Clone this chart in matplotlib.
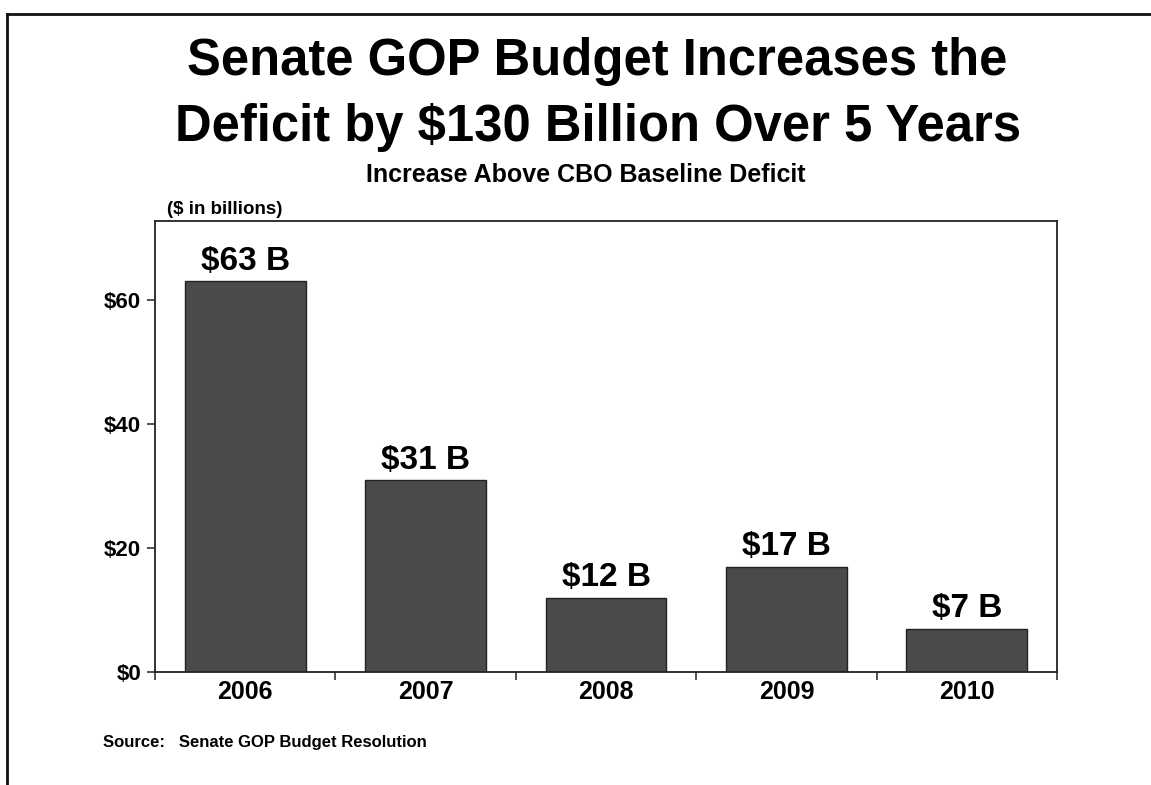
import matplotlib
matplotlib.use("Agg")
import matplotlib.pyplot as plt
from matplotlib.lines import Line2D
from matplotlib.ticker import FixedLocator

plt.rcParams['font.family'] = ['Liberation Sans', 'DejaVu Sans']
plt.rcParams['font.weight'] = 'bold'

years = ["2006", "2007", "2008", "2009", "2010"]
increase = [63, 31, 12, 17, 7]
bar_labels = ["$63 B", "$31 B", "$12 B", "$17 B", "$7 B"]
y_ticks = [0, 20, 40, 60]
y_tick_labels = ["$0", "$20", "$40", "$60"]

W, H = 1151, 785
fig = plt.figure(figsize=(W / 100, H / 100), dpi=100)
fig.patch.set_facecolor("white")

ax = fig.add_axes([155 / W, 1 - 672 / H, (1057 - 155) / W, (672 - 221) / H])

x = list(range(len(years)))
bars = ax.bar(x, increase, width=0.67, color="#4a4a4a", edgecolor="#222222",
              linewidth=1.0, zorder=2)

for b, lab in zip(bars, bar_labels):
    ax.annotate(lab, (b.get_x() + b.get_width() / 2, b.get_height()),
                xytext=(0, 3), textcoords="offset points",
                ha="center", va="bottom", fontsize=24, fontweight="bold")

ax.set_xlim(-0.5, len(years) - 0.5)
ax.set_ylim(0, 72.7)

ax.set_xticks(x)
ax.set_xticklabels(years, fontsize=18, fontweight="bold")
ax.xaxis.set_minor_locator(FixedLocator([i - 0.5 for i in range(len(years) + 1)]))
ax.tick_params(axis="x", which="major", length=0, pad=6)
ax.tick_params(axis="x", which="minor", length=6, width=1.2, color="#333333",
               direction="out")

ax.set_yticks(y_ticks)
ax.set_yticklabels(y_tick_labels, fontsize=16, fontweight="bold")
ax.tick_params(axis="y", length=6, width=1.2, color="#333333", direction="out", pad=4)

for s in ax.spines.values():
    s.set_linewidth(1.3)
    s.set_color("#222222")

# titles
fig.text(597 / W, 1 - 62 / H, "Senate GOP Budget Increases the",
         ha="center", va="center", fontsize=36.5, fontweight="bold")
fig.text(598 / W, 1 - 127 / H, "Deficit by $130 Billion Over 5 Years",
         ha="center", va="center", fontsize=36.5, fontweight="bold")
fig.text(586 / W, 1 - 175 / H, "Increase Above CBO Baseline Deficit",
         ha="center", va="center", fontsize=18, fontweight="bold")
fig.text(167 / W, 1 - 210 / H, "($ in billions)",
         ha="left", va="center", fontsize=13.5, fontweight="bold")
fig.text(103 / W, 1 - 742 / H, "Source:   Senate GOP Budget Resolution",
         ha="left", va="center", fontsize=12, fontweight="bold")

# slide frame (left and top edges)
fig.add_artist(Line2D([7 / W, 7 / W], [0, 1 - 14 / H], transform=fig.transFigure,
                      color="#111111", linewidth=2))
fig.add_artist(Line2D([7 / W, 1], [1 - 14 / H, 1 - 14 / H], transform=fig.transFigure,
                      color="#111111", linewidth=2))

fig.savefig("out.png", dpi=100)
